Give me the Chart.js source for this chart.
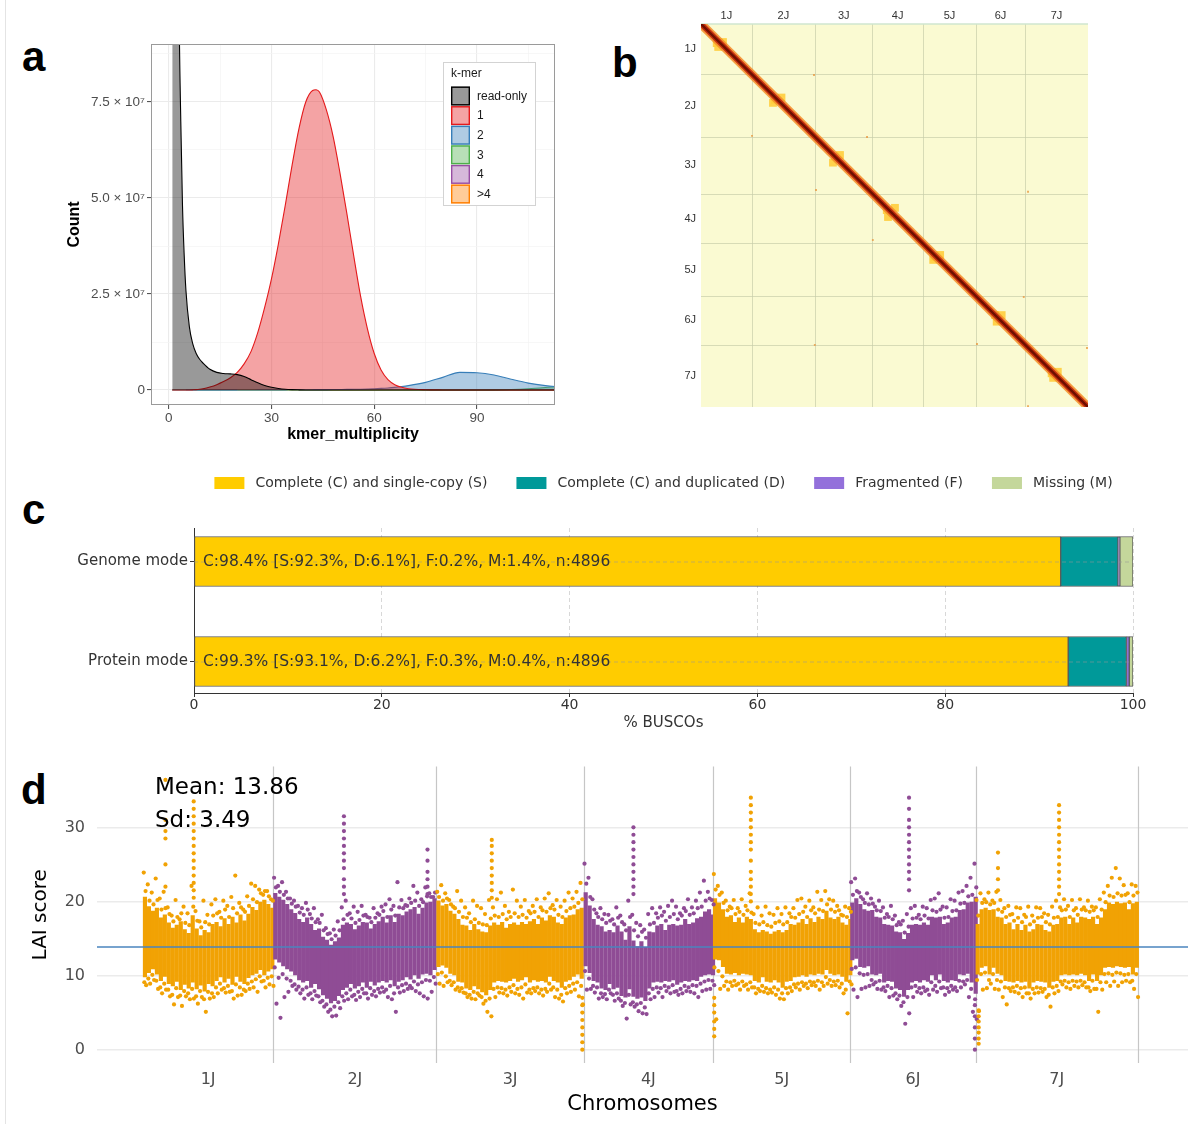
<!DOCTYPE html>
<html>
<head>
<meta charset="utf-8">
<script src="https://cdn.jsdelivr.net/npm/chart.js@4.4.1/dist/chart.umd.min.js"></script>
<style>
  html, body { margin: 0; padding: 0; background: #fff; }
  body { width: 1194px; height: 1124px; position: relative; overflow: hidden; }
  canvas { position: absolute; }
  .tag { position: absolute; font: bold 42px "Liberation Sans", Arial, sans-serif; line-height: 42px; color: #000; }
  .edge { position: absolute; left: 5px; top: 0; width: 1px; height: 1124px; background: #e4e4e4; }
</style>
</head>
<body>
<div class="edge"></div>
<div class="tag" style="left:22px; top:36px">a</div>
<div class="tag" style="left:612px; top:42px">b</div>
<div class="tag" style="left:22px; top:489px">c</div>
<div class="tag" style="left:21px; top:769px">d</div>
<canvas id="kmer" width="545" height="420" style="left:20px; top:30px"></canvas>
<canvas id="hic" width="500" height="420" style="left:600px; top:0px"></canvas>
<canvas id="busco" width="1194" height="285" style="left:0px; top:455px"></canvas>
<canvas id="lai" width="1194" height="379" style="left:0px; top:745px"></canvas>
<script>
const SANS = '"Liberation Sans", Arial, sans-serif';
const DEJAVU = '"DejaVu Sans", sans-serif';

// ---------- a: k-mer spectrum (counts in millions) ----------
const kmerMult = [1, 1.5, 2, 2.5, 3, 3.5, 4, 4.5, 5, 6, 7, 8, 9, 10, 12, 14, 16, 18, 20, 22, 24, 26, 28, 30,
  32, 34, 36, 38, 40, 42, 43, 44, 46, 48, 50, 52, 54, 56, 58, 60, 62, 64, 66, 68, 70, 75, 80, 85, 90, 95, 100, 105, 110, 115];
const readOnlyCount = [420, 330, 250, 170, 100, 70, 48, 35, 26, 16.5, 12, 9.5, 8, 7, 5.4, 4.6, 4.3, 4.2, 4.0, 3.5, 2.7, 1.9, 1.2, 0.7,
  0.4, 0.2, 0.1, 0.05, 0.02, 0, 0, 0, 0, 0, 0, 0, 0, 0, 0, 0, 0, 0, 0, 0, 0, 0, 0, 0, 0, 0, 0, 0, 0, 0];
const copy1Count = [0, 0, 0, 0, 0, 0, 0, 0, 0, 0.02, 0.05, 0.1, 0.2, 0.35, 0.8, 1.4, 2.2, 3.2, 4.6, 6.8, 10, 15, 21.5, 29,
  38, 48, 58.5, 68, 75, 78, 78.2, 77.6, 73, 66, 56.5, 46, 35, 24.5, 16, 9.5, 5.2, 2.7, 1.4, 0.7, 0.35, 0.08, 0.02, 0, 0, 0, 0, 0, 0, 0];
const copy2Count = [0.01, 0.01, 0.01, 0.01, 0.01, 0.01, 0.01, 0.01, 0.01, 0.01, 0.01, 0.01, 0.01, 0.01, 0.01, 0.01, 0.01, 0.01, 0.02, 0.02, 0.02, 0.03, 0.03, 0.04,
  0.04, 0.05, 0.06, 0.07, 0.08, 0.09, 0.1, 0.1, 0.11, 0.12, 0.14, 0.16, 0.19, 0.22, 0.27, 0.33, 0.42, 0.54, 0.7, 0.9, 1.15, 2.0, 3.3, 4.6, 4.5, 3.9, 2.8, 1.8, 1.15, 0.75];
const copy3Mult = [1, 85, 90, 95, 100, 105, 110, 115];
const copy3Count = [0, 0, 0.01, 0.05, 0.15, 0.35, 0.65, 1.0];
const copy4Mult = [5, 20];
const copy4Count = [0.03, 0.03];
const copyMoreMult = [20, 115];
const copyMoreCount = [0.01, 0.01];
const kmerLabels = ['read-only', '1', '2', '3', '4', '>4'];
const kmerColors = ['#000000', '#e41a1c', '#377eb8', '#4daf4a', '#984ea3', '#ff7f00'];
const kmerXTicks = [0, 15, 30, 45, 60, 75, 90, 105];
const kmerYTicks = [0, 12.5, 25, 37.5, 50, 62.5, 75, 87.5]; // millions

// ---------- b, d: chromosomes ----------
const chromNames = ['1J', '2J', '3J', '4J', '5J', '6J', '7J'];
const chromLengths = [65.5, 82, 74, 65, 69, 63, 81.5]; // Mb

// Hi-C contact hot spots near the diagonal, and weak trans contacts (Mb, Mb)
const hicBlobs = [[20.3, 25], [28.4, 23.5], [22.2, 30], [95.6, 99], [104, 96], [93, 103], [173, 173], [179.6, 171], [170.5, 181],
  [240, 243], [250.6, 240], [241.6, 252], [302, 304], [309, 301.5], [300, 308], [380, 380], [388.5, 380], [382, 388.6],
  [453, 456], [461, 454], [455, 462]];
const hicTrans = [[146, 66.6], [65.9, 146], [214.5, 147.5], [148.6, 216.7], [222, 282], [147, 419], [356.6, 417.8],
  [417, 356.4], [422.5, 219], [498.7, 423], [422.5, 499]];

// ---------- c: BUSCO ----------
const buscoModes = ['Genome mode', 'Protein mode'];
const buscoCategories = ['Complete (C) and single-copy (S)', 'Complete (C) and duplicated (D)', 'Fragmented (F)', 'Missing (M)'];
const buscoSingle = [92.3, 93.1];
const buscoDuplicated = [6.1, 6.2];
const buscoFragmented = [0.2, 0.3];
const buscoMissing = [1.4, 0.4];
const buscoTotal = 4896;
const buscoTicks = [0, 20, 40, 60, 80, 100];

// ---------- d: LAI per 2 Mb window ----------
// core: dense range [lo, hi]; dots: scattered values [far above, near above, near below, far below]
const laiMean = 13.86;
const laiSd = 3.49;
const laiTicks = [0, 10, 20, 30];
const core1J = [[9.8,20.6],[10.4,19.3],[10.9,18.7],[10.2,19.1],[9.3,17.8],[9.9,18.2],[8.9,17.1],[8.6,16.4],[9.2,16.8],[8.1,17.3],[8.8,16.2],
  [8.3,15.7],[9.1,18.1],[8.2,16.3],[8.7,15.4],[7.9,16.1],[8.9,15.8],[8.6,16.9],[9.3,17.2],[9.8,16.6],[9.1,17.7],[9.6,16.9],[8.8,17.9],
  [9.9,17.1],[9.2,18.2],[8.9,17.4],[9.7,18.3],[10.1,19.2],[10.3,18.8],[10.8,19.9],[10.1,20.2],[10.6,19.6],[10.9,19.1]];
const dots1J = [[23.9,21.4,9.1,8.7],[22.3,20.1,9.6,8.9],[21.2,19.6,10.1,9.4],[23.1,20.2,9.3,8.2],[20.4,18.9,8.4,7.6],[21.3,19.1,8.9,8.1],
  [19.2,18.3,8.1,7.2],[18.1,17.3,7.4,6.1],[20.2,17.9,8.3,7.1],[17.6,18.4,7.3,5.9],[19.3,17.1,7.9,7.2],[18.4,16.8,7.6,6.8],[22.1,19.3,8.2,6.9],
  [18.7,17.4,7.2,6.2],[17.3,16.5,7.9,7.1],[20.1,17.2,6.8,5.1],[18.2,16.9,7.8,6.9],[19.6,18.1,7.6,7.1],[20.3,18.4,8.4,7.6],[18.6,17.8,8.9,8.1],
  [20.1,18.9,8.3,7.7],[19.4,17.9,8.6,7.8],[20.6,19.1,7.9,6.9],[23.5,18.4,8.8,7.3],[19.8,19.2,8.4,7.4],[18.9,18.6,8.1,7.9],[20.7,19.4,8.9,8.2],
  [22.4,20.3,9.2,8.4],[22.1,19.9,9.5,7.8],[21.6,21.1,9.9,9.2],[20.9,21.4,9.3,8.4],[21.4,20.7,9.7,8.8],[20.3,20.1,9.9,8.6]];
const core2J = [[12.2,21.1],[11.8,20.6],[11.3,20.2],[10.9,19.6],[10.6,18.9],[10.1,18.4],[9.4,17.6],[9.1,17.2],[9.3,17.8],[8.4,16.9],[8.9,16.1],
  [8.2,16.3],[7.4,15.2],[6.9,14.8],[6.3,14.1],[6.6,14.6],[7.3,15.1],[8.1,16.8],[8.4,17.1],[8.9,16.9],[8.3,16.2],[8.6,16.7],[9.1,17.2],
  [8.4,17.1],[9.2,16.3],[8.7,16.9],[9.1,17.3],[9.3,17.9],[9.1,17.1],[9.4,18.1],[8.6,17.2],[9.2,18.3],[9.4,18.1],[9.8,18.6],[9.5,18.9],
  [10.1,19.2],[9.6,18.3],[10.2,19.1],[10.3,19.8],[10.1,19.9],[10.8,20.4]];
const dots2J = [[23.2,21.9,11.1,6.2],[22.1,21.3,9.7,4.3],[22.6,20.9,10.2,7.1],[21.3,20.4,9.6,7.8],[20.4,19.7,9.3,8.6],[20.1,19.3,8.8,8.1],
  [19.4,18.5,8.5,7.6],[19.1,18.2,8.1,6.9],[19.8,18.9,8.4,7.4],[18.3,17.7,7.6,6.8],[19.1,17.2,7.9,7.3],[17.6,17.1,7.2,6.4],[18.2,16.1,6.6,5.8],
  [16.4,15.6,6.1,5.1],[15.7,14.9,5.4,4.5],[16.2,15.4,5.8,4.6],[17.3,16.1,6.4,5.6],[19.2,17.6,7.2,6.6],[20.1,18.2,7.6,6.8],[18.4,17.7,8.1,7.2],
  [19.3,17.1,7.4,6.7],[18.6,17.5,7.8,7.1],[19.4,18.1,8.2,7.6],[18.2,17.9,7.6,6.9],[17.8,17.2,8.3,7.4],[19.1,17.8,7.9,7.2],[18.4,18.2,8.2,7.7],
  [19.3,18.7,8.4,7.8],[19.6,17.9,8.1,7.1],[20.3,18.9,8.6,6.8],[19.4,18.1,7.6,5.1],[22.6,19.2,8.4,7.7],[20.2,19.1,8.7,7.9],[19.5,19.4,8.9,8.2],
  [20.4,19.8,8.6,8.3],[22.1,20.1,9.2,7.9],[21.2,19.4,8.8,7.6],[20.3,19.9,9.1,7.2],[21.9,20.7,9.4,6.9],[21.1,20.6,9.3,7.8],[20.6,21.2,9.8,8.9]];
const core3J = [[11.2,20.1],[11.4,19.4],[11.1,19.6],[10.3,18.7],[10.1,18.3],[9.2,17.6],[9.1,16.8],[8.3,16.7],[8.1,16.1],[8.6,16.9],[8.2,16.2],
  [7.8,15.9],[7.4,15.8],[8.1,16.7],[9.1,17.1],[9.3,16.8],[9.2,17.2],[9.1,16.4],[9.3,16.9],[9.6,17.1],[9.2,16.8],[9.4,17.2],[9.8,16.9],
  [9.1,17.3],[9.4,17.6],[9.2,16.9],[9.3,17.8],[9.1,17.4],[9.9,18.1],[9.3,17.9],[9.1,17.1],[8.4,16.9],[9.2,17.8],[9.4,18.1],[9.9,18.2],
  [10.2,18.9],[9.6,19.1]];
const dots3J = [[21.3,20.6,10.2,8.9],[22.2,20.1,10.4,8.6],[21.1,20.4,9.9,9.1],[20.2,19.6,9.3,8.7],[19.3,19.1,9.1,8.1],[21.4,18.6,8.4,7.9],
  [20.1,17.9,8.3,7.7],[19.2,17.8,7.6,7.1],[18.4,17.2,7.4,6.9],[20.1,17.6,7.8,6.8],[19.4,17.1,7.6,7.3],[19.1,16.9,7.1,6.2],[18.3,16.8,6.6,5.1],
  [20.2,17.7,6.9,4.5],[19.2,18.1,8.2,7.1],[20.3,17.9,8.4,7.7],[21.2,18.3,8.3,7.6],[19.4,17.6,8.1,7.3],[18.6,17.9,8.4,7.8],[21.6,18.4,8.7,7.6],
  [20.1,17.9,8.2,7.4],[19.3,18.2,8.4,6.9],[20.2,17.8,8.8,7.7],[18.7,18.4,8.1,7.6],[19.4,18.6,8.3,7.9],[20.3,17.9,8.4,7.6],[19.2,18.8,8.1,7.3],
  [20.4,18.6,8.2,7.8],[21.1,19.1,8.9,8.1],[19.5,18.9,8.4,7.1],[20.2,18.2,8.1,6.9],[19.3,17.9,7.4,6.5],[20.1,18.7,8.3,7.6],[21.2,19.1,8.6,7.8],
  [20.4,19.3,8.9,8.1],[21.3,19.8,9.1,7.2],[22.5,20.3,8.6,6.1]];
const core4J = [[11.3,21.2],[10.4,19.4],[9.3,17.6],[9.1,16.8],[8.3,16.6],[8.1,15.9],[8.9,16.1],[8.2,15.8],[8.4,16.7],[7.3,15.9],[7.1,14.8],
  [8.2,16.6],[7.2,14.7],[6.9,13.9],[7.1,14.6],[6.6,13.8],[8.3,15.9],[9.1,15.8],[9.2,16.7],[9.1,16.9],[9.3,16.1],[9.2,16.8],[9.4,16.9],
  [8.8,16.7],[9.1,16.8],[9.3,17.6],[9.2,16.9],[9.4,17.1],[9.3,17.7],[9.9,17.9],[10.1,18.6],[10.2,18.9],[10.1,18.2]];
const dots4J = [[25.1,22.4,10.6,8.1],[23.2,20.6,9.6,8.2],[20.3,18.9,8.6,7.7],[18.4,17.9,8.4,6.9],[19.1,17.6,7.6,7.1],[18.3,17.1,7.5,6.8],
  [18.2,17.4,8.1,7.6],[17.6,16.9,7.4,6.6],[19.2,17.8,7.6,6.9],[18.1,17.2,6.6,5.9],[16.9,16.1,6.3,4.2],[20.1,17.9,7.4,6.1],[18.2,16.1,6.4,5.8],
  [17.1,15.3,6.1,5.2],[16.8,15.9,6.3,4.9],[16.2,15.1,5.7,4.8],[18.3,16.9,7.6,6.8],[19.1,17.1,8.2,7.1],[18.4,17.8,8.4,7.7],[19.2,18.1,8.3,7.1],
  [18.6,17.4,8.6,7.9],[19.4,17.9,8.4,7.6],[20.1,18.3,8.7,7.8],[19.3,17.6,7.9,7.4],[18.4,18.1,8.2,7.6],[19.1,18.7,8.6,7.9],[20.3,18.2,8.4,7.8],
  [19.2,18.4,8.7,7.6],[20.1,19.1,8.6,7.1],[21.2,19.3,8.9,7.9],[22.8,20.1,9.2,8.1],[21.3,20.4,9.4,8.2],[20.2,19.6,9.3,8.7]];
const core5J = [[12.2,20.4],[12.1,19.8],[11.2,18.9],[10.3,17.9],[10.2,18.1],[10.4,17.2],[10.1,17.8],[10.3,17.1],[10.2,17.9],[10.1,17.6],
  [9.3,16.2],[9.1,15.8],[9.8,16.1],[9.2,15.9],[9.1,15.6],[9.4,15.9],[9.1,16.1],[8.4,15.8],[9.2,16.1],[9.3,16.9],[9.8,16.8],[9.9,17.1],
  [10.1,17.6],[9.9,16.9],[10.2,17.7],[10.1,17.2],[10.3,17.9],[10.2,17.6],[10.8,18.7],[10.3,17.8],[10.1,17.6],[10.2,17.9],[9.9,17.1],
  [9.2,16.8],[10.1,17.6]];
const dots5J = [[23.7,21.6,11.1,4.1],[22.1,20.9,10.6,8.2],[21.2,19.8,9.9,8.6],[20.1,18.8,9.2,8.1],[19.3,19.1,9.1,8.6],[20.2,18.3,9.3,8.7],
  [19.1,18.6,8.9,8.1],[20.3,18.2,9.2,8.6],[19.4,18.8,8.8,8.1],[21.1,18.5,9.1,8.4],[18.3,17.1,8.4,7.6],[19.2,16.9,8.2,7.9],[18.1,17.2,8.6,7.8],
  [19.3,16.8,8.3,7.6],[18.4,16.6,8.1,7.7],[18.2,17.1,8.4,7.4],[19.1,17.3,8.1,6.9],[18.3,16.9,7.6,6.8],[19.2,17.2,8.3,7.6],[18.4,17.9,8.4,7.9],
  [19.1,17.8,8.8,8.4],[20.2,18.3,8.9,8.1],[20.4,18.6,9.1,8.6],[19.3,17.9,8.9,8.3],[20.1,18.8,9.2,8.7],[19.2,18.4,9.1,8.6],[21.3,18.9,9.3,8.1],
  [20.2,18.7,9.1,8.6],[21.4,19.6,9.8,8.9],[20.3,18.9,9.4,8.6],[20.1,18.6,9.2,8.7],[19.4,18.8,9.3,8.4],[18.2,18.1,8.9,7.6],[19.3,17.9,8.1,4.9],
  [19.1,18.6,9.2,8.8]];
const core6J = [[12.1,19.8],[12.3,20.4],[11.2,19.6],[11.1,18.9],[11.3,18.7],[10.2,18.8],[10.1,17.9],[10.3,17.8],[9.1,16.9],[9.3,16.8],
  [9.2,16.7],[8.3,15.9],[8.1,15.8],[7.2,14.9],[8.1,15.7],[9.1,16.8],[9.3,16.9],[9.1,16.8],[9.4,17.1],[9.2,16.8],[10.1,17.9],[9.4,17.8],
  [10.2,17.9],[9.3,16.9],[9.1,17.1],[9.4,17.8],[9.3,17.9],[10.2,18.8],[10.1,18.9],[10.3,19.8],[9.1,19.9],[7.6,20.6]];
const dots6J = [[22.6,20.9,10.9,8.1],[23.1,21.4,11.1,7.1],[21.2,20.6,10.3,8.2],[20.3,19.8,10.1,8.4],[21.1,19.6,10.2,8.6],[20.4,19.7,9.4,8.8],
  [19.3,18.8,9.1,8.2],[20.1,18.7,9.3,8.1],[19.2,17.8,8.4,7.9],[18.3,17.9,8.6,7.1],[19.4,17.6,8.3,7.3],[18.1,16.8,7.6,6.8],[17.2,16.9,7.3,5.9],
  [17.4,15.8,6.4,3.5],[18.3,16.6,7.1,4.9],[19.1,17.7,8.4,7.1],[19.4,17.8,8.6,7.8],[18.2,17.6,8.3,7.6],[19.3,18.1,8.4,7.9],[19.1,17.7,8.1,7.4],
  [20.2,18.8,9.1,8.1],[20.4,18.6,8.6,7.8],[21.1,18.9,9.2,8.3],[19.3,17.8,8.4,7.4],[19.2,17.9,8.3,7.8],[20.3,18.7,8.6,8.1],[20.1,18.8,8.4,7.9],
  [21.2,19.7,9.3,8.4],[21.4,19.8,9.2,8.8],[22.1,20.7,9.4,7.1],[23.2,20.9,8.2,5.1],[25.1,21.9,6.8,4.1]];
const core7J = [[10.2,16.9],[11.1,18.9],[11.3,19.1],[10.2,18.8],[11.1,18.9],[10.3,17.9],[10.1,17.8],[9.3,16.9],[9.2,17.1],[9.1,16.2],
  [9.3,16.9],[9.1,16.1],[9.2,16.8],[8.3,15.9],[9.1,16.2],[9.3,16.9],[9.2,16.8],[9.1,16.1],[8.4,15.9],[9.2,16.8],[9.3,16.9],[10.1,17.8],
  [10.2,17.9],[10.1,16.9],[10.2,17.8],[10.1,17.1],[10.3,17.9],[10.1,17.8],[9.3,17.6],[10.2,17.9],[9.3,16.9],[10.1,17.8],[11.1,18.9],
  [11.2,19.8],[11.1,19.6],[11.3,19.9],[11.2,19.7],[11.1,19.8],[11.2,18.9],[10.2,19.7],[11.1,19.9]];
const dots7J = [[20.2,18.1,9.4,5.2],[21.1,19.8,10.2,8.1],[20.3,19.9,10.4,8.3],[21.2,19.6,9.4,8.9],[20.1,19.8,10.2,8.2],[21.3,18.9,9.4,8.1],
  [20.2,18.6,9.2,7.1],[19.1,17.9,8.4,6.1],[19.4,18.2,8.3,7.9],[18.3,17.4,8.4,7.8],[19.2,17.8,8.6,7.6],[19.1,17.2,8.3,7.1],[18.2,17.9,8.4,7.6],
  [19.3,16.9,7.6,6.9],[18.1,17.3,8.2,7.6],[19.2,17.8,8.4,7.7],[19.1,17.9,8.3,7.8],[18.4,17.2,8.2,7.1],[18.2,16.9,7.4,5.8],[19.3,17.8,8.4,7.6],
  [20.1,17.9,8.6,7.9],[19.2,18.8,9.2,8.8],[20.3,18.9,9.3,8.4],[19.4,17.9,9.1,8.2],[20.2,18.8,9.3,8.6],[19.1,18.2,9.2,8.4],[20.3,18.9,9.3,8.7],
  [19.2,18.8,9.1,8.4],[20.1,18.6,8.4,7.9],[19.3,18.8,9.3,8.2],[19.2,17.9,8.2,5.1],[20.3,18.9,9.1,8.1],[21.2,19.9,10.2,9.1],[22.1,20.8,10.3,8.6],
  [23.2,20.6,10.1,9.2],[24.5,21.1,10.4,8.6],[23.1,20.8,10.3,9.1],[22.2,20.9,10.1,9.3],[21.1,19.9,10.2,9.1],[22.3,20.8,9.3,8.2],[22.1,21.2,10.2,7.1]];
// narrow peaks and dips: [position in chromosome (Mb), LAI values]
const spikes1J = [[11.3, [22, 25, 28.5, 29.5, 31, 36.4]], [25.5, [20.5, 21.5, 22.5, 23.5, 24.5, 25.5, 26.5, 27.5, 28.5, 29.5, 30.5, 31.5, 32.5, 33.5]]];
const spikes2J = [[35.5, [21, 22, 23, 24.5, 25.5, 26.5, 27.5, 28.5, 29.5, 30.5, 31.5]], [77.5, [21, 22, 23, 24, 25.5, 27]]];
const spikes3J = [[27.8, [20.5, 21.5, 22.5, 23.5, 24.5, 25.5, 26.5, 27.5, 28.3]], [73.3, [0, 1, 2, 3, 4, 5, 6, 7]]];
const spikes4J = [[25, [21, 22, 23, 24, 25, 26, 27, 28, 29, 30]]];
const spikes5J = [[0.6, [1.8, 2.8, 3.8, 5, 6, 7]], [19, [20, 21, 22, 23, 24, 25.5, 27, 28, 29, 30, 31, 32, 33, 34]]];
const spikes6J = [[29.5, [21.5, 23, 24, 25, 26, 27, 28, 29, 30, 31, 32.5, 34]], [62.6, [0, 1.5, 3, 4.5, 6]]];
const spikes7J = [[1.5, [0.8, 1.5, 2.3, 3, 3.8, 4.5, 5.3]], [11.2, [21.5, 23, 24.5, 26.6]], [41.9, [21, 22, 23, 24, 25, 26, 27, 28, 29, 30, 31, 32, 33]]];

const laiCore = [core1J, core2J, core3J, core4J, core5J, core6J, core7J];
const laiDots = [dots1J, dots2J, dots3J, dots4J, dots5J, dots6J, dots7J];
const laiSpikes = [spikes1J, spikes2J, spikes3J, spikes4J, spikes5J, spikes6J, spikes7J];

Chart.defaults.animation = false;
Chart.defaults.plugins.legend.display = false;
Chart.defaults.plugins.tooltip.enabled = false;

function withAlpha(hex, a) {
  const n = parseInt(hex.slice(1), 16);
  return `rgba(${(n >> 16) & 255},${(n >> 8) & 255},${n & 255},${a})`;
}
const setTicks = values => s => { s.ticks = values.map(v => ({ value: v })); };

const chromStarts = [];
let genomeSize = 0;
chromLengths.forEach(len => { chromStarts.push(genomeSize); genomeSize += len; });
const chromMids = chromStarts.map((s, i) => s + chromLengths[i] / 2);
const chromEnds = chromStarts.map((s, i) => s + chromLengths[i]);

// ===== panel a =====
const toPoints = (xs, ys) => xs.map((x, i) => ({ x, y: ys[i] * 1e6 }));
const kmerSeries = [
  toPoints(kmerMult, readOnlyCount), toPoints(kmerMult, copy1Count), toPoints(kmerMult, copy2Count),
  toPoints(copy3Mult, copy3Count), toPoints(copy4Mult, copy4Count), toPoints(copyMoreMult, copyMoreCount)
];
const isMajor = (v, step) => Math.abs(v / step - Math.round(v / step)) < 1e-6;

const panelFrame = {
  id: 'panelFrame',
  afterDatasetsDraw(chart) {
    const { ctx, chartArea: a } = chart;
    ctx.save();
    ctx.strokeStyle = '#9a9a9a';
    ctx.lineWidth = 1;
    ctx.strokeRect(a.left + 0.5, a.top + 0.5, a.width - 1, a.height - 1);
    ctx.restore();
  }
};

const kmerLegend = {
  id: 'kmerLegend',
  afterDraw(chart) {
    const { ctx, chartArea: a } = chart;
    const left = a.right - 112, top = a.top + 18;
    ctx.save();
    ctx.fillStyle = '#fff';
    ctx.fillRect(left, top, 92, 143);
    ctx.strokeStyle = '#d3d3d3';
    ctx.lineWidth = 1;
    ctx.strokeRect(left + 0.5, top + 0.5, 92, 143);
    ctx.font = '12px ' + SANS;
    ctx.textBaseline = 'middle';
    ctx.fillStyle = '#1a1a1a';
    ctx.fillText('k-mer', left + 8, top + 12);
    chart.data.datasets.forEach((d, i) => {
      const y = top + 24.5 + i * 19.6;
      ctx.fillStyle = d.backgroundColor;
      ctx.fillRect(left + 8, y, 19, 19);
      ctx.strokeStyle = d.borderColor;
      ctx.lineWidth = 1.4;
      ctx.strokeRect(left + 8.7, y + 0.7, 17.6, 17.6);
      ctx.fillStyle = '#1a1a1a';
      ctx.fillText(d.label, left + 34, y + 10);
    });
    ctx.restore();
  }
};

const majorGrid = step => ({
  color: c => (c.tick && isMajor(c.tick.value, step) ? '#ebebeb' : '#f4f4f4'),
  lineWidth: c => (c.tick && isMajor(c.tick.value, step) ? 1.1 : 0.7),
  tickColor: c => (c.tick && isMajor(c.tick.value, step) ? '#555' : 'rgba(0,0,0,0)'),
  tickLength: 4
});

new Chart(document.getElementById('kmer'), {
  type: 'line',
  data: {
    datasets: kmerSeries.map((pts, i) => ({
      label: kmerLabels[i],
      data: pts,
      borderColor: kmerColors[i],
      backgroundColor: withAlpha(kmerColors[i], 0.4),
      borderWidth: 1.1,
      fill: 'origin',
      pointRadius: 0,
      cubicInterpolationMode: 'monotone'
    }))
  },
  options: {
    responsive: false,
    layout: { padding: { top: 14, right: 10, left: 0, bottom: 0 } },
    scales: {
      x: {
        type: 'linear', min: -5.2, max: 112.8,
        afterBuildTicks: setTicks(kmerXTicks),
        ticks: {
          autoSkip: false, maxRotation: 0, padding: 1,
          color: '#4d4d4d', font: { family: SANS, size: 13.5 },
          callback: v => (isMajor(v, 30) ? String(v) : '')
        },
        grid: majorGrid(30),
        border: { display: false },
        title: { display: true, text: 'kmer_multiplicity', color: '#000', font: { family: SANS, size: 16, weight: 'bold' }, padding: { top: 0, bottom: 6 } },
        afterFit: s => { s.height = 45; }
      },
      y: {
        min: -3.9e6, max: 9.01e7,
        afterBuildTicks: setTicks(kmerYTicks.map(v => v * 1e6)),
        ticks: {
          autoSkip: false, padding: 2,
          color: '#4d4d4d', font: { family: SANS, size: 13.5 },
          callback: v => (!isMajor(v, 2.5e7) ? '' : (Math.abs(v) < 1 ? '0' : (v / 1e7).toFixed(1) + ' × 10⁷'))
        },
        grid: majorGrid(2.5e7),
        border: { display: false },
        title: { display: true, text: 'Count', color: '#000', font: { family: SANS, size: 16, weight: 'bold' }, padding: { top: 45, bottom: 0 } },
        afterFit: s => { s.width = 131; }
      }
    }
  },
  plugins: [panelFrame, kmerLegend]
});

// ===== panel b =====
const hicBackground = {
  id: 'hicBackground',
  beforeDatasetsDraw(chart) {
    const { ctx, chartArea: a, scales: { x, y } } = chart;
    ctx.save();
    ctx.fillStyle = '#fafad2';
    ctx.fillRect(a.left, a.top, a.width, a.height);
    ctx.strokeStyle = 'rgba(200,205,170,0.7)';
    ctx.lineWidth = 1;
    chromEnds.slice(0, -1).forEach(e => {
      const px = Math.round(x.getPixelForValue(e)) + 0.5;
      const py = Math.round(y.getPixelForValue(e)) + 0.5;
      ctx.beginPath(); ctx.moveTo(px, a.top); ctx.lineTo(px, a.bottom); ctx.stroke();
      ctx.beginPath(); ctx.moveTo(a.left, py); ctx.lineTo(a.right, py); ctx.stroke();
    });
    ctx.strokeStyle = '#cfe6cf';
    ctx.lineWidth = 1.5;
    ctx.beginPath(); ctx.moveTo(a.left, a.top); ctx.lineTo(a.right, a.top); ctx.stroke();
    ctx.restore();
  }
};

const diagonal = [{ x: 0, y: 0 }, { x: genomeSize, y: genomeSize }];
new Chart(document.getElementById('hic'), {
  type: 'scatter',
  data: {
    datasets: [
      { type: 'line', data: diagonal, borderColor: '#6e0f00', borderWidth: 2.5, pointRadius: 0, clip: 0, order: 0 },
      { type: 'line', data: diagonal, borderColor: '#c4300f', borderWidth: 5.5, pointRadius: 0, clip: 0, order: 1 },
      { type: 'line', data: diagonal, borderColor: 'rgba(243,140,40,0.85)', borderWidth: 9, pointRadius: 0, clip: 0, order: 2 },
      { data: hicBlobs.map(([x, y]) => ({ x, y })), pointStyle: 'rect', pointRadius: 5.5, backgroundColor: 'rgba(255,205,60,0.9)', borderWidth: 0, order: 3 },
      { data: hicTrans.map(([x, y]) => ({ x, y })), pointStyle: 'rect', pointRadius: 1.3, backgroundColor: 'rgba(232,150,60,0.8)', borderWidth: 0, order: 4 }
    ]
  },
  options: {
    responsive: false,
    layout: { padding: { top: 0, right: 12, bottom: 13, left: 0 } },
    scales: {
      x: {
        type: 'linear', position: 'top', min: 0, max: genomeSize, offset: false,
        afterBuildTicks: setTicks(chromMids),
        ticks: { autoSkip: false, maxRotation: 0, padding: 1.5, color: '#333', font: { family: SANS, size: 11 }, callback: (v, i) => chromNames[i] },
        grid: { display: false, drawTicks: false },
        border: { display: false },
        afterFit: s => { s.height = 24; }
      },
      y: {
        type: 'linear', reverse: true, min: 0, max: genomeSize, offset: false,
        afterBuildTicks: setTicks(chromMids),
        ticks: { autoSkip: false, padding: 5, color: '#333', font: { family: SANS, size: 11 }, callback: (v, i) => chromNames[i] },
        grid: { display: false, drawTicks: false },
        border: { display: false },
        afterFit: s => { s.width = 101; }
      }
    }
  },
  plugins: [hicBackground]
});

// ===== panel c =====
const buscoColors = ['#ffcc00', '#009999', '#9370db', '#c4d79b'];
const buscoValues = [buscoSingle, buscoDuplicated, buscoFragmented, buscoMissing];

const buscoLegend = {
  id: 'buscoLegend',
  afterDraw(chart) {
    const { ctx, chartArea: a } = chart;
    ctx.save();
    ctx.font = '14px ' + DEJAVU;
    ctx.textBaseline = 'middle';
    const items = chart.data.datasets.map(d => ({ text: d.label, color: d.backgroundColor, w: ctx.measureText(d.label).width }));
    const box = 30, gap = 11, spacing = 29;
    const total = items.reduce((s, it) => s + box + gap + it.w, 0) + spacing * (items.length - 1);
    let x = (a.left + a.right) / 2 - total / 2;
    const y = 28;
    items.forEach(it => {
      ctx.fillStyle = it.color;
      ctx.fillRect(x, y - 6, box, 12);
      ctx.fillStyle = '#333';
      ctx.fillText(it.text, x + box + gap, y);
      x += box + gap + it.w + spacing;
    });
    ctx.restore();
  }
};

const buscoText = {
  id: 'buscoText',
  afterDatasetsDraw(chart) {
    const { ctx, scales: { x, y } } = chart;
    ctx.save();
    buscoModes.forEach((m, i) => {
      const py = y.getPixelForValue(i);
      ctx.strokeStyle = 'rgba(150,150,150,0.55)';
      ctx.setLineDash([4, 3]);
      ctx.lineWidth = 1;
      ctx.beginPath(); ctx.moveTo(x.getPixelForValue(0), py + 0.5); ctx.lineTo(x.getPixelForValue(100), py + 0.5); ctx.stroke();
      const s = buscoSingle[i], d = buscoDuplicated[i];
      const label = `C:${(s + d).toFixed(1)}% [S:${s.toFixed(1)}%, D:${d.toFixed(1)}%], F:${buscoFragmented[i].toFixed(1)}%, M:${buscoMissing[i].toFixed(1)}%, n:${buscoTotal}`;
      ctx.font = '15.5px ' + DEJAVU;
      ctx.fillStyle = '#333';
      ctx.textBaseline = 'middle';
      ctx.fillText(label, x.getPixelForValue(0) + 9, py);
    });
    ctx.restore();
  }
};

new Chart(document.getElementById('busco'), {
  type: 'bar',
  data: {
    datasets: buscoCategories.map((label, k) => ({
      label,
      data: buscoValues[k].map((v, i) => ({ x: v, y: i })),
      backgroundColor: buscoColors[k],
      borderColor: '#5a5a5a',
      borderWidth: 1,
      borderSkipped: false,
      barThickness: 50
    }))
  },
  options: {
    responsive: false,
    indexAxis: 'y',
    layout: { padding: { top: 73, right: 61, bottom: 0, left: 0 } },
    scales: {
      x: {
        type: 'linear', min: 0, max: 100, stacked: true,
        afterBuildTicks: setTicks(buscoTicks),
        ticks: { padding: 0, color: '#333', font: { family: DEJAVU, size: 14 } },
        grid: { color: c => (c.tick && c.tick.value === 0 ? 'rgba(0,0,0,0)' : '#d8d8d8'), tickColor: '#333', tickLength: 4 },
        border: { display: true, color: '#333', width: 1, dash: [4, 3] },
        title: { display: true, text: '% BUSCOs', color: '#333', font: { family: DEJAVU, size: 15 }, padding: { top: 0, bottom: 8 } },
        afterFit: s => { s.height = 47; }
      },
      y: {
        type: 'linear', reverse: true, min: -0.335, max: 1.315, stacked: true, offset: false,
        afterBuildTicks: setTicks(buscoModes.map((m, i) => i)),
        ticks: { autoSkip: false, padding: 2, color: '#333', font: { family: DEJAVU, size: 15 }, callback: (v, i) => buscoModes[i] },
        grid: { offset: false, drawOnChartArea: false, drawTicks: true, tickColor: '#333', tickLength: 4 },
        border: { display: true, color: '#333', width: 1 },
        afterFit: s => { s.width = 194; }
      }
    }
  },
  plugins: [buscoLegend, buscoText]
});

// ===== panel d =====
const laiColors = ['#f1a204', '#8f4c95'];
const laiWindow = 2; // Mb
const dotOffsets = [-0.6, 0.3, -0.3, 0.6]; // spread of the four scattered values inside a window
const laiXMin = -23.1, laiXMax = 525.2;
const coreData = [], coreColors = [], dotData = [], dotColors = [];
laiCore.forEach((windows, c) => {
  const col = laiColors[c % 2];
  windows.forEach(([lo, hi], i) => {
    coreData.push({ x: chromStarts[c] + laiWindow * (i + 0.5), y: [lo, hi] });
    coreColors.push(col);
  });
  laiDots[c].forEach((vals, i) => {
    const x = chromStarts[c] + laiWindow * (i + 0.5);
    vals.forEach((v, k) => { dotData.push({ x: x + dotOffsets[k], y: v }); dotColors.push(col); });
  });
  laiSpikes[c].forEach(([pos, vals]) => vals.forEach(v => {
    dotData.push({ x: chromStarts[c] + pos, y: v });
    dotColors.push(col);
  }));
});

const chromBounds = {
  id: 'chromBounds',
  beforeDatasetsDraw(chart) {
    const { ctx, chartArea: a, scales: { x } } = chart;
    ctx.save();
    ctx.strokeStyle = '#c6c6c6';
    ctx.lineWidth = 1.2;
    chromEnds.forEach(e => {
      const px = Math.round(x.getPixelForValue(e)) + 0.5;
      ctx.beginPath(); ctx.moveTo(px, a.top); ctx.lineTo(px, a.bottom); ctx.stroke();
    });
    ctx.restore();
  }
};

const laiStats = {
  id: 'laiStats',
  afterDatasetsDraw(chart) {
    const { ctx, chartArea: a } = chart;
    ctx.save();
    ctx.font = '23px ' + DEJAVU;
    ctx.fillStyle = '#000';
    ctx.textBaseline = 'middle';
    ctx.fillText('Mean: ' + laiMean.toFixed(2), a.left + 58, 43);
    ctx.fillText('Sd: ' + laiSd.toFixed(2), a.left + 58, 76);
    ctx.restore();
  }
};

new Chart(document.getElementById('lai'), {
  type: 'bar',
  data: {
    datasets: [
      { type: 'line', data: [{ x: laiXMin, y: laiMean }, { x: laiXMax, y: laiMean }], borderColor: '#4a84be', borderWidth: 1.6, pointRadius: 0, order: 0 },
      { type: 'scatter', data: dotData, backgroundColor: dotColors, pointRadius: 2.1, borderWidth: 0, order: 1 },
      { type: 'bar', data: coreData, backgroundColor: coreColors, barThickness: 3.5, borderWidth: 0, order: 2 }
    ]
  },
  options: {
    responsive: false,
    layout: { padding: { top: 20, right: 6, bottom: 0, left: 0 } },
    scales: {
      x: {
        type: 'linear', min: laiXMin, max: laiXMax, offset: false,
        afterBuildTicks: setTicks(chromMids),
        ticks: { autoSkip: false, maxRotation: 0, padding: 7, color: '#4d4d4d', font: { family: DEJAVU, size: 16 }, callback: (v, i) => chromNames[i] },
        grid: { display: false, drawTicks: false, offset: false },
        border: { display: false },
        title: { display: true, text: 'Chromosomes', color: '#000', font: { family: DEJAVU, size: 21 }, padding: { top: 0, bottom: 7 } },
        afterFit: s => { s.height = 61; }
      },
      y: {
        min: -1.8, max: 38.2,
        afterBuildTicks: setTicks(laiTicks),
        ticks: { autoSkip: false, padding: 12, color: '#4d4d4d', font: { family: DEJAVU, size: 16 } },
        grid: { color: '#ebebeb', lineWidth: 1.5, drawTicks: false },
        border: { display: false },
        title: { display: true, text: 'LAI score', color: '#000', font: { family: DEJAVU, size: 20 }, padding: { top: 29, bottom: 0 } },
        afterFit: s => { s.width = 97; }
      }
    }
  },
  plugins: [chromBounds, laiStats]
});
</script>
</body>
</html>
